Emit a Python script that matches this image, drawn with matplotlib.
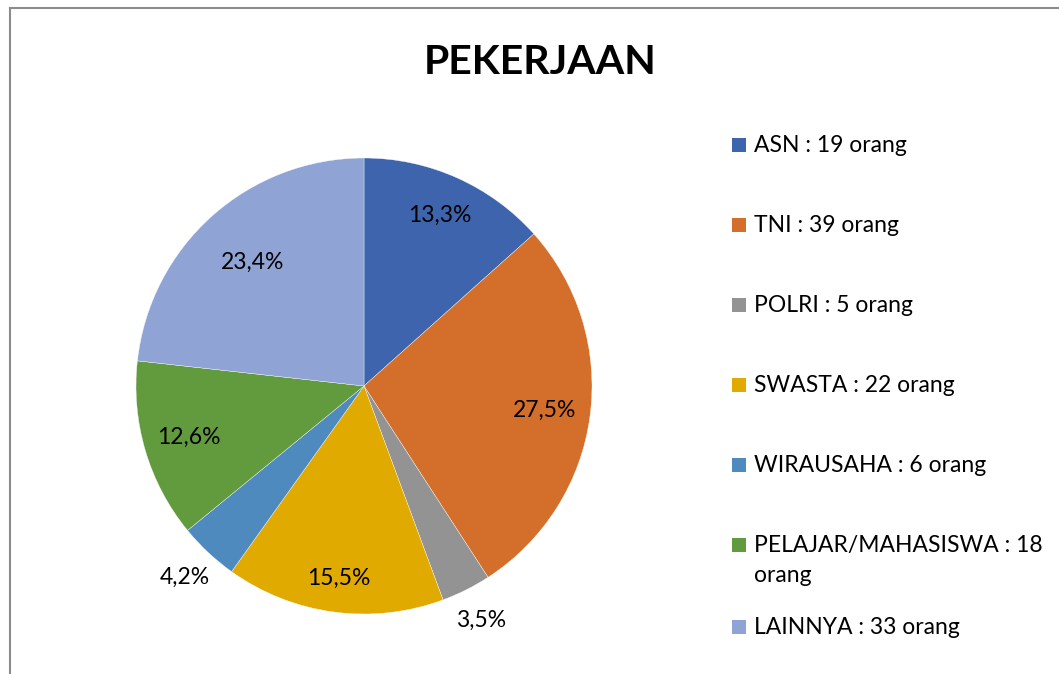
import numpy as np
import matplotlib
matplotlib.use('Agg')
import matplotlib.pyplot as plt
from matplotlib.patches import Rectangle
from matplotlib.lines import Line2D

# -----------------------------
# data
# -----------------------------
categories = ['ASN', 'TNI', 'POLRI', 'SWASTA', 'WIRAUSAHA', 'PELAJAR/MAHASISWA', 'LAINNYA']
counts = [19, 39, 5, 22, 6, 18, 33]
pct_labels = ['13,3%', '27,5%', '3,5%', '15,5%', '4,2%', '12,6%', '23,4%']
legend_labels = ['ASN : 19 orang', 'TNI : 39 orang', 'POLRI : 5 orang', 'SWASTA : 22 orang',
                 'WIRAUSAHA : 6 orang', 'PELAJAR/MAHASISWA : 18\norang', 'LAINNYA : 33 orang']
colors = ['#3D64AD', '#D36E2B', '#939393', '#E1AA00', '#4E8ABE', '#629A3E', '#8FA4D4']

# label distance from centre (fraction of radius)
label_dist = [0.82, 0.80, 1.15, 0.85, 1.15, 0.80, 0.73]

plt.rcParams['font.family'] = ['Lato', 'DejaVu Sans']

W, H = 1059, 674
fig = plt.figure(figsize=(W / 100, H / 100), dpi=100)

# chart frame (top and left edges visible)
fig.add_artist(Line2D([10 / W, 10 / W], [0, 1 - 8 / H], color='#8C8C8C', lw=1.5))
fig.add_artist(Line2D([10 / W, 1], [1 - 8 / H, 1 - 8 / H], color='#8C8C8C', lw=1.5))

# pie axes
cx, cy, r = 364, 386, 228
ax = fig.add_axes([(cx - r) / W, (H - cy - r) / H, 2 * r / W, 2 * r / H])
wedges, _ = ax.pie(counts, colors=colors, startangle=90, counterclock=False, radius=1,
                   wedgeprops=dict(edgecolor='white', linewidth=0.25))
ax.set_xlim(-1, 1)
ax.set_ylim(-1, 1)
ax.set_aspect('equal')
ax.axis('off')

for w, lab, d in zip(wedges, pct_labels, label_dist):
    ang = np.deg2rad((w.theta1 + w.theta2) / 2)
    ax.text(d * np.cos(ang), d * np.sin(ang), lab, ha='center', va='center',
            fontsize=16.5, color='black')

# title
fig.text(540 / W, 1 - 62 / H, 'PEKERJAAN', ha='center', va='center',
         fontsize=29.5, fontweight='bold', color='black')

# legend
y0, dy = 145, 80
for i, (lab, c) in enumerate(zip(legend_labels, colors)):
    y = y0 + dy * i + (2 if i == 6 else 0)
    fig.add_artist(Rectangle((732 / W, 1 - (y + 7) / H), 14 / W, 14 / H,
                             facecolor=c, edgecolor='none', transform=fig.transFigure))
    fig.text(754 / W, 1 - (y - 10) / H, lab, ha='left', va='top', fontsize=16.5,
             color='black', linespacing=1.55)

fig.savefig('out.png', dpi=100)
